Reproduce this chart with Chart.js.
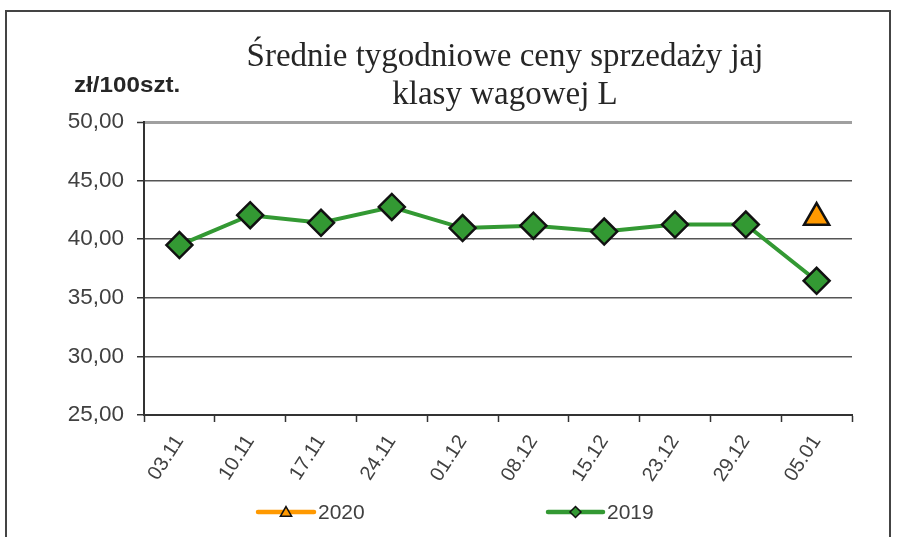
<!DOCTYPE html>
<html>
<head>
<meta charset="utf-8">
<script src="https://cdn.jsdelivr.net/npm/chart.js@4.4.1/dist/chart.umd.min.js"></script>
<style>
  html, body { margin: 0; padding: 0; background: #ffffff; }
  #wrap { position: relative; width: 902px; height: 537px; overflow: hidden; }
  #frame { position: absolute; left: 5px; top: 10px; width: 882px; height: 560px;
           border: 2px solid #444; pointer-events: none; }
  canvas { position: absolute; left: 0; top: 0; }
</style>
</head>
<body>
<div id="wrap">
  <canvas id="c" width="902" height="537"></canvas>
  <div id="frame"></div>
</div>
<script>
const categories = ['03.11', '10.11', '17.11', '24.11', '01.12', '08.12', '15.12', '23.12', '29.12', '05.01'];
const values2019 = [39.5, 42.05, 41.4, 42.75, 40.95, 41.15, 40.65, 41.25, 41.25, 36.45];
const values2020 = [null, null, null, null, null, null, null, null, null, 41.85];
const seriesLabels = ['2020', '2019'];
const titleLines = ['Średnie tygodniowe ceny sprzedaży jaj', 'klasy wagowej L'];
const unitLabel = 'zł/100szt.';
const yMin = 25, yMax = 50, yStep = 5;

const GREEN = '#339933';
const ORANGE = '#ff9900';
const TEXT = '#404040';

function diamondPath(ctx, x, y, r) {
  ctx.beginPath();
  ctx.moveTo(x, y - r); ctx.lineTo(x + r, y); ctx.lineTo(x, y + r); ctx.lineTo(x - r, y);
  ctx.closePath();
}
function trianglePath(ctx, x, y, r) {
  ctx.beginPath();
  ctx.moveTo(x, y - r);
  ctx.lineTo(x + r * 0.866, y + r * 0.5);
  ctx.lineTo(x - r * 0.866, y + r * 0.5);
  ctx.closePath();
}

const textPlugin = {
  id: 'textPlugin',
  afterDraw(chart) {
    const ctx = chart.ctx;
    ctx.save();
    // title
    ctx.fillStyle = '#262626';
    ctx.font = '33px "Liberation Serif", serif';
    ctx.textAlign = 'center';
    ctx.textBaseline = 'middle';
    ctx.fillText(titleLines[0], 505, 57);
    ctx.fillText(titleLines[1], 505, 95);
    // unit
    ctx.fillStyle = '#262626';
    ctx.font = 'bold 22px "Liberation Sans", Arial, sans-serif';
    ctx.textAlign = 'left';
    ctx.save();
    ctx.translate(74, 86);
    ctx.scale(1.1, 1);
    ctx.fillText(unitLabel, 0, 0);
    ctx.restore();
    // legend
    const items = [
      { ds: chart.data.datasets[0], x0: 258, x1: 314, tx: 318, marker: 'triangle' },
      { ds: chart.data.datasets[1], x0: 548, x1: 603, tx: 607, marker: 'diamond' }
    ];
    const ly = 512;
    items.forEach(it => {
      ctx.strokeStyle = it.ds.borderColor;
      ctx.lineWidth = 4.5;
      ctx.lineCap = 'round';
      ctx.beginPath(); ctx.moveTo(it.x0, ly); ctx.lineTo(it.x1, ly); ctx.stroke();
      const mx = (it.x0 + it.x1) / 2;
      ctx.fillStyle = it.ds.pointBackgroundColor;
      ctx.strokeStyle = '#111';
      ctx.lineWidth = 1.5;
      ctx.lineCap = 'butt';
      if (it.marker === 'triangle') trianglePath(ctx, mx, ly + 1, 6.5);
      else diamondPath(ctx, mx, ly, 5.5);
      ctx.fill(); ctx.stroke();
      ctx.fillStyle = TEXT;
      ctx.font = '21px "Liberation Sans", Arial, sans-serif';
      ctx.textAlign = 'left';
      ctx.textBaseline = 'middle';
      ctx.fillText(it.ds.label, it.tx, ly + 1);
    });
    ctx.restore();
  }
};

new Chart(document.getElementById('c'), {
  type: 'line',
  data: {
    labels: categories,
    datasets: [
      {
        label: seriesLabels[0],
        data: values2020,
        borderColor: ORANGE,
        backgroundColor: ORANGE,
        pointBackgroundColor: ORANGE,
        pointBorderColor: '#111',
        pointBorderWidth: 2.5,
        pointStyle: 'triangle',
        pointRadius: 14.5,
        borderWidth: 4,
        order: 0
      },
      {
        label: seriesLabels[1],
        data: values2019,
        borderColor: GREEN,
        backgroundColor: GREEN,
        pointBackgroundColor: GREEN,
        pointBorderColor: '#111',
        pointBorderWidth: 2.5,
        pointStyle: 'rectRot',
        pointRadius: 13,
        borderWidth: 4,
        tension: 0,
        order: 1
      }
    ]
  },
  options: {
    responsive: false,
    animation: false,
    devicePixelRatio: 1,
    layout: { padding: { top: 122, right: 50, bottom: 40, left: 0 } },
    plugins: {
      legend: { display: false },
      title: { display: false },
      tooltip: { enabled: false }
    },
    scales: {
      x: {
        type: 'category',
        offset: true,
        afterFit(scale) { scale.height = 82; },
        grid: {
          offset: true,
          drawOnChartArea: true,
          drawTicks: true,
          tickLength: 7,
          tickColor: '#333',
          tickWidth: 1.5,
          color: (c) => (c.index === categories.length ? '#a0a0a0' : 'rgba(0,0,0,0)'),
          lineWidth: (c) => (c.index === categories.length ? 3 : 1)
        },
        border: { color: '#333', width: 2 },
        ticks: {
          color: TEXT,
          font: { family: '"Liberation Sans", Arial, sans-serif', size: 20 },
          minRotation: 57,
          maxRotation: 57,
          padding: 9,
          autoSkip: false
        }
      },
      y: {
        min: yMin,
        max: yMax,
        afterFit(scale) { scale.width = 144; },
        grid: {
          drawTicks: true,
          tickLength: 7,
          tickColor: '#333',
          tickWidth: 1.5,
          color: (c) => (c.tick && c.tick.value === yMax ? '#a0a0a0' : '#555'),
          lineWidth: (c) => (c.tick && c.tick.value === yMax ? 3 : 1.5)
        },
        border: { color: '#333', width: 2 },
        ticks: {
          stepSize: yStep,
          color: TEXT,
          padding: 13,
          font: { family: '"Liberation Sans", Arial, sans-serif', size: 22.5 },
          callback: (v) => Number(v).toFixed(2).replace('.', ',')
        }
      }
    }
  },
  plugins: [textPlugin]
});
</script>
</body>
</html>
